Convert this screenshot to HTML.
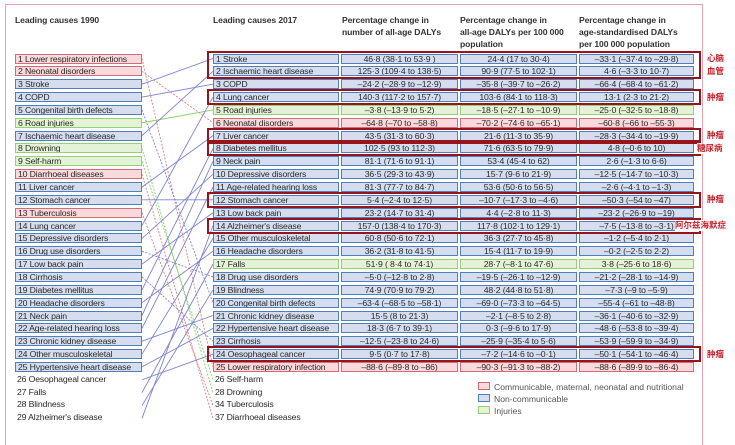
<!DOCTYPE html>
<html><head><meta charset="utf-8"><style>
body{margin:0;background:#fff;width:735px;height:430px;overflow:hidden;position:relative;font-family:"Liberation Sans","Noto Sans CJK SC",sans-serif;color:#333}
.ab{position:absolute}
.bx{position:absolute;height:10px;box-sizing:border-box;border:1px solid;font-size:8.7px;line-height:9px;white-space:nowrap;overflow:hidden;letter-spacing:-0.15px;padding-left:2px;color:#2a2a2a}
.C{background:#f8d9dc;border-color:#d66a77}
.N{background:#d5ddee;border-color:#4f7fbd}
.I{background:#e4f3d7;border-color:#93d172}
.v{text-align:center;padding-left:0}
.hd{position:absolute;font-size:8.6px;line-height:12px;color:#333;letter-spacing:-0.1px}
.hl{position:absolute;border:2px solid #98141d;box-sizing:border-box}
.cn{position:absolute;color:#c8212b;font-weight:bold;font-size:8.5px;line-height:11px;background:#fff;white-space:nowrap}
</style></head><body>
<div class="ab" style="left:5px;top:4px;width:696px;height:440px;border:1px solid #e3a3b0;border-bottom:none"></div>
<div class="hd" style="left:15px;top:14px;font-weight:bold">Leading causes 1990</div>
<div class="hd" style="left:213px;top:14px;font-weight:bold">Leading causes 2017</div>
<div class="hd" style="left:342px;top:14px;font-weight:bold">Percentage change in<br>number of all-age DALYs</div>
<div class="hd" style="left:460px;top:14px;font-weight:bold">Percentage change in<br>all-age DALYs per 100 000<br>population</div>
<div class="hd" style="left:579px;top:14px;font-weight:bold">Percentage change in<br>age-standardised DALYs<br>per 100 000 population</div>
<svg id="lines" class="ab" style="left:0;top:0" width="735" height="430"></svg>
<div id="root"></div>
<div class="ab" style="left:478px;top:381px;font-size:8.6px;line-height:12px;color:#555">
<div><span style="display:inline-block;width:10px;height:6px;border:1px solid #d66a77;background:#f8d9dc;margin-right:4px"></span>Communicable, maternal, neonatal and nutritional</div>
<div><span style="display:inline-block;width:10px;height:6px;border:1px solid #4f7fbd;background:#d5ddee;margin-right:4px"></span>Non-communicable</div>
<div><span style="display:inline-block;width:10px;height:6px;border:1px solid #93d172;background:#e4f3d7;margin-right:4px"></span>Injuries</div>
</div>
<script>
const left1990=["Lower respiratory infections","Neonatal disorders","Stroke","COPD","Congenital birth defects","Road injuries","Ischaemic heart disease","Drowning","Self-harm","Diarrhoeal diseases","Liver cancer","Stomach cancer","Tuberculosis","Lung cancer","Depressive disorders","Drug use disorders","Low back pain","Cirrhosis","Diabetes mellitus","Headache disorders","Neck pain","Age-related hearing loss","Chronic kidney disease","Other musculoskeletal","Hypertensive heart disease","Oesophageal cancer","Falls","Blindness","Alzheimer's disease"];
const leftCat=["C","C","N","N","N","I","N","I","I","C","N","N","C","N","N","N","N","N","N","N","N","N","N","N","N","","","",""];
// row index (1-based) in the 2017 column each 1990 cause moves to
const targetRow=[25,6,1,3,20,5,2,27,26,29,7,12,28,4,10,18,13,23,8,16,9,11,21,15,22,24,17,19,14];
const right2017=["Stroke","Ischaemic heart disease","COPD","Lung cancer","Road injuries","Neonatal disorders","Liver cancer","Diabetes mellitus","Neck pain","Depressive disorders","Age-related hearing loss","Stomach cancer","Low back pain","Alzheimer's disease","Other musculoskeletal","Headache disorders","Falls","Drug use disorders","Blindness","Congenital birth defects","Chronic kidney disease","Hypertensive heart disease","Cirrhosis","Oesophageal cancer","Lower respiratory infection"];
const rightCat=["N","N","N","N","I","C","N","N","N","N","N","N","N","N","N","N","I","N","N","N","N","N","N","N","C"];
const extra2017=["26 Self-harm","28 Drowning","34 Tuberculosis","37 Diarrhoeal diseases"];
const changeNumber=["46·8 (38·1 to 53·9 )","125·3 (109·4 to 138·5)","–24·2 (–28·9 to –12·9)","140·3 (117·2 to 157·7)","–3·8 (–13·9 to 5·2)","–64·8 (–70 to –58·8)","43·5 (31·3 to 60·3)","102·5 (93 to 112·3)","81·1 (71·6 to 91·1)","36·5 (29·3 to 43·9)","81·3 (77·7 to 84·7)","5·4 (–2·4 to 12·5)","23·2 (14·7 to 31·4)","157·0 (138·4 to 170·3)","60·8 (50·6 to 72·1)","36·2 (31·8 to 41·5)","51·9 ( 8·4 to 74·1)","–5·0 (–12·8 to 2·8)","74·9 (70·9 to 79·2)","–63·4 (–68·5 to –58·1)","15·5 (8 to 21·3)","18·3 (6·7 to 39·1)","–12·5 (–23·8 to 24·6)","9·5 (0·7 to 17·8)","–88·6 (–89·8 to –86)"];
const changeAllAge=["24·4 (17 to 30·4)","90·9 (77·5 to 102·1)","–35·8 (–39·7 to –26·2)","103·6 (84·1 to 118·3)","–18·5 (–27·1 to –10·9)","–70·2 (–74·6 to –65·1)","21·6 (11·3 to 35·9)","71·6 (63·5 to 79·9)","53·4 (45·4 to 62)","15·7 (9·6 to 21·9)","53·6 (50·6 to 56·5)","–10·7 (–17·3 to –4·6)","4·4 (–2·8 to 11·3)","117·8 (102·1 to 129·1)","36·3 (27·7 to 45·8)","15·4 (11·7 to 19·9)","28·7 (–8·1 to 47·6)","–19·5 (–26·1 to –12·9)","48·2 (44·8 to 51·8)","–69·0 (–73·3 to –64·5)","–2·1 (–8·5 to 2·8)","0·3 (–9·6 to 17·9)","–25·9 (–35·4 to 5·6)","–7·2 (–14·6 to –0·1)","–90·3 (–91·3 to –88·2)"];
const changeAgeStd=["–33·1 (–37·4 to –29·8)","4·6 (–3·3 to 10·7)","–66·4 (–68·4 to –61·2)","13·1 (2·3 to 21·2)","–25·0 (–32·5 to –18·8)","–60·8 (–66 to –55·3)","–28·3 (–34·4 to –19·9)","4·8 (–0·6 to 10)","2·6 (–1·3 to 6·6)","–12·5 (–14·7 to –10·3)","–2·6 (–4·1 to –1·3)","–50·3 (–54 to –47)","–23·2 (–26·9 to –19)","–7·5 (–13·8 to –3·1)","–1·2 (–5·4 to 2·1)","–0·2 (–2·5 to 2·2)","3·8 (–25·6 to 18·6)","–21·2 (–28·1 to –14·9)","–7·3 (–9 to –5·9)","–55·4 (–61 to –48·8)","–36·1 (–40·6 to –32·9)","–48·6 (–53·8 to –39·4)","–53·9 (–59·9 to –34·9)","–50·1 (–54·1 to –46·4)","–88·6 (–89·9 to –86·4)"];
const highlights=[[1,2],[4,4],[7,7],[8,8],[12,12],[14,14],[24,24]];
// label text, row, left x
const labels=[["心脑",1,707],["血管",2,707],["肿瘤",4,707],["肿瘤",7,707],["糖尿病",8,697],["肿瘤",12,707],["阿尔兹海默症",14,675],["肿瘤",24,707]];

const root=document.getElementById('root');
const rowY=r=>53.5+(r-1)*12.85;
const lineCol={C:"#e07a84",N:"#7d82d4",I:"#86cf63","":"#7d82d4"};
function box(cls,x,y,w,text){const d=document.createElement('div');d.className='bx '+cls;d.style.left=x+'px';d.style.top=y+'px';d.style.width=w+'px';d.textContent=text;root.appendChild(d);return d;}
const svg=document.getElementById('lines');
left1990.forEach((n,i)=>{
  const cat=leftCat[i];
  const t=targetRow[i];
  const ln=document.createElementNS('http://www.w3.org/2000/svg','line');
  ln.setAttribute('x1',142);ln.setAttribute('y1',rowY(i+1)+5);ln.setAttribute('x2',213);ln.setAttribute('y2',rowY(t)+5);
  ln.setAttribute('stroke',lineCol[cat]);ln.setAttribute('stroke-width','0.9');
  if(t>i+1)ln.setAttribute('stroke-dasharray','2,1.5');
  
  
  svg.appendChild(ln);
  let d;
  if(cat){d=box(cat,15,rowY(i+1),127,(i+1)+' '+n);}
  else{d=box('',15,rowY(i+1),127,(i+1)+' '+n);d.style.border='none';}
  
  
});
right2017.forEach((n,i)=>{
  const y=rowY(i+1),c=rightCat[i];
  let d=box(c,213,y,126,(i+1)+' '+n);
  
  
  d=box(c+' v',341,y,117,changeNumber[i]);
  
  
  d=box(c+' v',460,y,117,changeAllAge[i]);
  
  
  d=box(c+' v',579,y,115,changeAgeStd[i]);
  
  
});
extra2017.forEach((n,i)=>{
  const d=box('',213,rowY(26+i),126,n);d.style.border='none';
  
  
});
highlights.forEach(h=>{
  const y1=rowY(h[0])-3,y2=rowY(h[1])+13;
  const d=document.createElement('div');d.className='hl';
  d.style.left='207px';d.style.top=y1+'px';d.style.width='494px';d.style.height=(y2-y1)+'px';
  
  
  root.appendChild(d);
});
labels.forEach(l=>{
  const e=document.createElement('div');e.className='cn';e.textContent=l[0];
  e.style.left=l[2]+'px';e.style.top=(rowY(l[1])-0.5)+'px';
  
  
  root.appendChild(e);
});
</script>
</body></html>
